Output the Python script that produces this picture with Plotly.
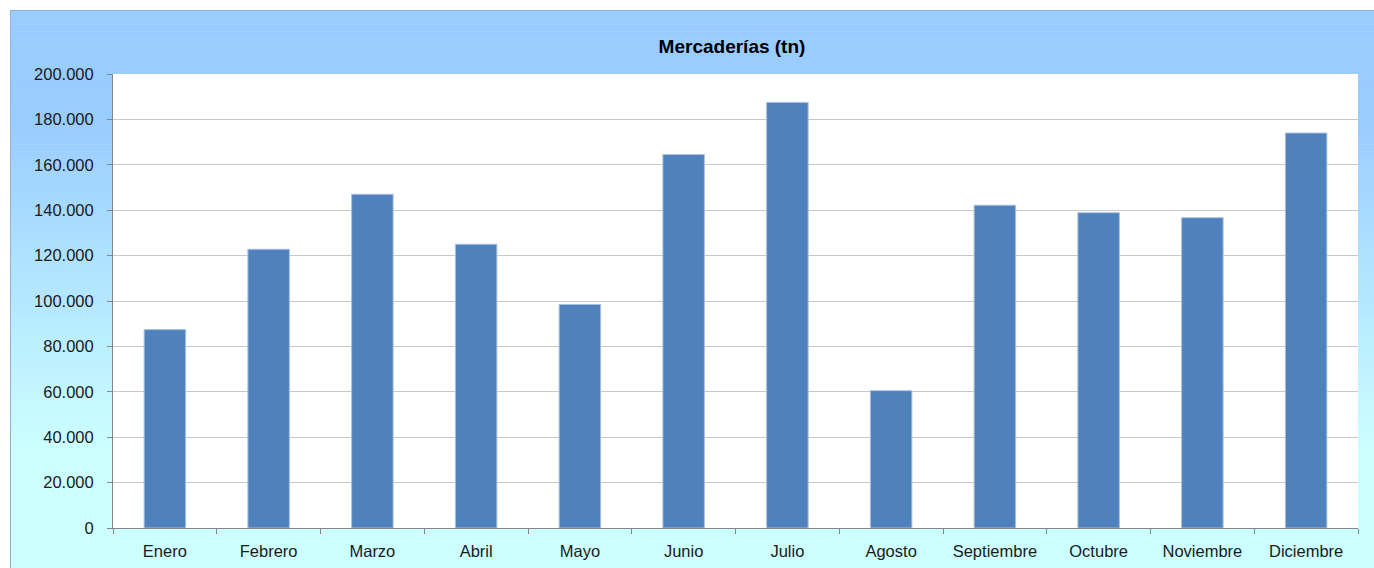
import plotly.graph_objects as go

months = ["Enero", "Febrero", "Marzo", "Abril", "Mayo", "Junio", "Julio",
          "Agosto", "Septiembre", "Octubre", "Noviembre", "Diciembre"]
mercaderias = [87400, 122800, 147000, 125000, 98500, 164500, 187500,
               60500, 142200, 138900, 136700, 174000]
y_ticks = [0, 20000, 40000, 60000, 80000, 100000, 120000, 140000,
           160000, 180000, 200000]

W, H = 1374, 568
L, R, T, B = 113, 16, 74, 40
pw, ph = W - L - R, H - T - B

def px_to_paper_x(px):
    return (px - L) / pw

def py_to_paper_y(py):
    return (H - B - py) / ph

fig = go.Figure()
fig.add_trace(go.Bar(
    x=months, y=mercaderias,
    marker=dict(color="#4F81BD", line=dict(color="#A9C1E0", width=1)),
    width=0.4, showlegend=False,
))

# background gradient (chart area frame)
shapes = []
c_top = (0x99, 0xCC, 0xFF)
c_bot = (0xCC, 0xFF, 0xFF)
g0, g1 = 120, 450
n = 80
y_start, y_end = 10, 575
step = (y_end - y_start) / n
for i in range(n):
    ya = y_start + i * step
    yb = ya + step + 0.6
    ym = (ya + yb) / 2
    t = min(max((ym - g0) / (g1 - g0), 0), 1)
    col = tuple(round(c_top[k] + (c_bot[k] - c_top[k]) * t) for k in range(3))
    shapes.append(dict(
        type="rect", xref="paper", yref="paper", layer="below",
        x0=px_to_paper_x(10), x1=px_to_paper_x(1390),
        y0=py_to_paper_y(yb), y1=py_to_paper_y(ya),
        fillcolor="rgb(%d,%d,%d)" % col, line=dict(width=0),
    ))
# frame border
shapes.append(dict(
    type="rect", xref="paper", yref="paper", layer="below",
    x0=px_to_paper_x(10.5), x1=px_to_paper_x(1395),
    y0=py_to_paper_y(590), y1=py_to_paper_y(10.5),
    fillcolor="rgba(0,0,0,0)", line=dict(color="#97AED0", width=1),
))
# white plot area
shapes.append(dict(
    type="rect", xref="paper", yref="paper", layer="below",
    x0=0, x1=1, y0=0, y1=1, fillcolor="white", line=dict(width=0),
))

font_family = "Liberation Sans, Arial, sans-serif"

fig.update_layout(
    width=W, height=H,
    margin=dict(l=L, r=R, t=T, b=B, pad=0),
    paper_bgcolor="white",
    plot_bgcolor="rgba(0,0,0,0)",
    separators=",.",
    shapes=shapes,
    bargap=0.6,
    font=dict(family=font_family, size=16, color="#1a1a1a"),
    title=dict(
        text="<b>Mercaderías (tn)</b>",
        x=px_to_paper_x(732), xref="paper", xanchor="center",
        y=1 - 46 / H, yref="container", yanchor="middle",
        font=dict(family=font_family, size=19, color="#000000"),
    ),
    xaxis=dict(
        type="category",
        automargin=False,
        showgrid=False,
        showline=True, linecolor="#868686", linewidth=1,
        ticks="outside", ticklen=5, tickcolor="#868686",
        tickson="boundaries",
        tickfont=dict(family=font_family, size=16.5, color="#1a1a1a"),
        ticklabelstandoff=8,
        fixedrange=True,
    ),
    yaxis=dict(
        range=[0, 200000],
        automargin=False,
        tickvals=y_ticks,
        tickformat=",d",
        showgrid=True, gridcolor="#C8C8C8", gridwidth=1,
        zeroline=False,
        showline=True, linecolor="#868686", linewidth=1,
        ticks="outside", ticklen=5, tickcolor="#868686",
        tickfont=dict(family=font_family, size=16.5, color="#1a1a1a"),
        ticklabelstandoff=10,
        fixedrange=True,
    ),
)

fig.write_html(
    "out.html",
    config={"displayModeBar": False},
    post_script="document.body.style.margin='0';document.body.style.overflow='hidden';",
)
